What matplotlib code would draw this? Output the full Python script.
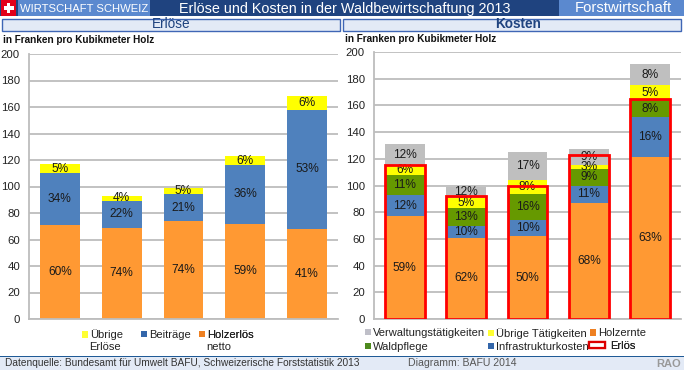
import matplotlib
matplotlib.use("Agg")
import numpy as np
import matplotlib.pyplot as plt
from matplotlib.patches import Rectangle

plt.rcParams['font.family'] = ['Liberation Sans', 'DejaVu Sans']

W, H = 684, 370

# Erlöse (Franken pro m3)
erl_holz = [71, 69, 74, 72, 68]
erl_beitr = [39, 20, 20, 44, 90]
erl_uebrig = [7, 4, 5, 7, 10]
erl_holz_lab = ['60%', '74%', '74%', '59%', '41%']
erl_beitr_lab = ['34%', '22%', '21%', '36%', '53%']
erl_uebrig_lab = ['5%', '4%', '5%', '6%', '6%']

# Kosten
kos_holz = [77, 61, 62, 87, 121]
kos_infra = [16, 9, 12, 13, 30]
kos_wald = [15, 13, 20, 12, 13]
kos_uebrig = [7, 8, 10, 3, 11]
kos_verw = [16, 8, 21, 12, 16]
kos_holz_lab = ['59%', '62%', '50%', '68%', '63%']
kos_infra_lab = ['12%', '10%', '10%', '11%', '16%']
kos_wald_lab = ['11%', '13%', '16%', '9%', '8%']
kos_uebrig_lab = ['6%', '5%', '8%', '3%', '5%']
kos_verw_lab = ['12%', '12%', '17%', '9%', '8%']
erloes_total = [115, 92, 100, 123, 165]

yticks = list(range(0, 201, 20))

ORANGE = '#FF9933'
BLUE = '#4F81BD'
GREEN = '#669900'
YELLOW = '#FFFF00'
GRAY = '#BFBFBF'
DARK = '#1F437F'
MID = '#5B89CF'
PALE = '#E3EAF6'


def box(x0, y0, x1, y1, **kw):
    # rectangle in pixels from the top left corner
    fig.add_artist(Rectangle((x0 / W, 1 - y1 / H), (x1 - x0) / W, (y1 - y0) / H,
                             transform=fig.transFigure, **kw))


def label(x, y, s, **kw):
    fig.text(x / W, 1 - y / H, s, **kw)


def make_axes(x0, x1, ytop, ybot):
    ax = fig.add_axes([x0 / W, 1 - ybot / H, (x1 - x0) / W, (ybot - ytop) / H])
    ax.set_xlim(-0.5, 4.5)
    ax.set_ylim(0, 200)
    ax.set_yticks(yticks)
    ax.set_xticks([])
    ax.tick_params(axis='y', length=0, labelsize=8.2, pad=6.5, labelcolor='#222222')
    ax.grid(axis='y', color='#BDBDBD', lw=1.3)
    ax.set_axisbelow(True)
    for s in ['top', 'right']:
        ax.spines[s].set_visible(False)
    for s in ['left', 'bottom']:
        ax.spines[s].set_color('#BDBDBD')
        ax.spines[s].set_linewidth(1.3)
    return ax


def stack(ax, series):
    x = np.arange(5)
    bottom = np.zeros(5)
    for vals, col, labs in series:
        b = ax.bar(x, vals, 0.645, bottom=bottom, color=col)
        ax.bar_label(b, labels=labs, label_type='center', fontsize=8.6, color='#1a1a1a')
        bottom = bottom + np.array(vals)


def legend_item(ax, handle, text, x, y, hlen=0.55, pad=0.15):
    # one legend entry per call, the columns in the original are not evenly spaced
    leg = ax.legend([handle], [text], loc='center left', bbox_to_anchor=(x / W, 1 - y / H),
                    bbox_transform=fig.transFigure, frameon=False, fontsize=8,
                    handlelength=hlen, handleheight=0.55, handletextpad=pad,
                    borderpad=0, borderaxespad=0, labelcolor='#222222')
    ax.add_artist(leg)


def swatch(col):
    return Rectangle((0, 0), 1, 1, facecolor=col, edgecolor='none')


fig = plt.figure(figsize=(W / 100, H / 100), dpi=100, facecolor='white')

# header
box(0, 0, W, 16, color=DARK, lw=0)
box(18, 0, 150, 16, color=MID, lw=0)
box(559, 0, W, 16, color=MID, lw=0)
box(1, 0, 16, 16, color='#E2001A', lw=0)
box(7, 3, 10, 13, color='white', lw=0)
box(3.5, 6.5, 13.5, 9.5, color='white', lw=0)
label(20, 8.5, 'WIRTSCHAFT SCHWEIZ', color='white', fontsize=8.1, va='center')
label(345, 8.5, 'Erlöse und Kosten in der Waldbewirtschaftung 2013', color='white',
      fontsize=10.4, va='center', ha='center')
label(623, 8.5, 'Forstwirtschaft', color='white', fontsize=10.7, va='center', ha='center')

# panel titles
box(1.5, 18.5, 340, 30.5, facecolor=PALE, edgecolor='#3F66B5', lw=1)
box(343.5, 18.5, 681.5, 30.5, facecolor=PALE, edgecolor='#3F66B5', lw=1)
label(171, 24.5, 'Erlöse', color=DARK, fontsize=9.8, va='center', ha='center')
label(518, 24.5, 'Kosten', color=DARK, fontsize=9.8, va='center', ha='center', fontweight='bold')
label(3, 40, 'in Franken pro Kubikmeter Holz', fontsize=7.2, va='center', fontweight='bold', color='#111111')
label(345, 39, 'in Franken pro Kubikmeter Holz', fontsize=7.2, va='center', fontweight='bold', color='#111111')

# left chart
ax1 = make_axes(29, 338, 54, 319)
stack(ax1, [(erl_holz, ORANGE, erl_holz_lab),
            (erl_beitr, BLUE, erl_beitr_lab),
            (erl_uebrig, YELLOW, erl_uebrig_lab)])
legend_item(ax1, swatch('#FFFF33'), 'Übrige', 82, 335)
legend_item(ax1, swatch('#3366AA'), 'Beiträge', 141, 335)
legend_item(ax1, swatch('#EE8022'), 'Holzerlös', 199, 335)
label(89.5, 347.5, 'Erlöse', fontsize=8, va='center', color='#222222')
label(206.5, 347.5, 'netto', fontsize=8, va='center', color='#222222')

# right chart
ax2 = make_axes(374, 681, 52, 319)
stack(ax2, [(kos_holz, ORANGE, kos_holz_lab),
            (kos_infra, BLUE, kos_infra_lab),
            (kos_wald, GREEN, kos_wald_lab),
            (kos_uebrig, YELLOW, kos_uebrig_lab),
            (kos_verw, GRAY, kos_verw_lab)])
ax2.bar(np.arange(5), erloes_total, 0.645, facecolor='none', edgecolor='#FF0000', lw=2, zorder=3)
legend_item(ax2, swatch('#BFBFC8'), 'Verwaltungstätigkeiten', 365, 333)
legend_item(ax2, swatch('#FFFF33'), 'Übrige Tätigkeiten', 488, 333.5)
legend_item(ax2, swatch('#EE8022'), 'Holzernte', 590, 333.5)
legend_item(ax2, swatch('#4E8A1E'), 'Waldpflege', 365, 347)
legend_item(ax2, swatch('#3366AA'), 'Infrastrukturkosten', 488, 347)
legend_item(ax2, Rectangle((0, 0), 1, 1, facecolor='white', edgecolor='#DD0000', lw=1.6),
            'Erlös', 589, 346, hlen=1.45, pad=0.45)

# footer
box(0, 357, W, H, color=PALE, lw=0)
box(0, 356, W, 357.2, color='#1F5A96', lw=0)
label(5, 363.5, 'Datenquelle: Bundesamt für Umwelt BAFU, Schweizerische Forststatistik 2013',
      fontsize=7.3, va='center', color='#333333')
label(408, 363.5, 'Diagramm: BAFU 2014', fontsize=7.6, va='center', color='#555555')
label(656, 364, 'RAO', fontsize=8, va='center', color='#999999', fontweight='bold')

fig.savefig('out.png', dpi=100)
